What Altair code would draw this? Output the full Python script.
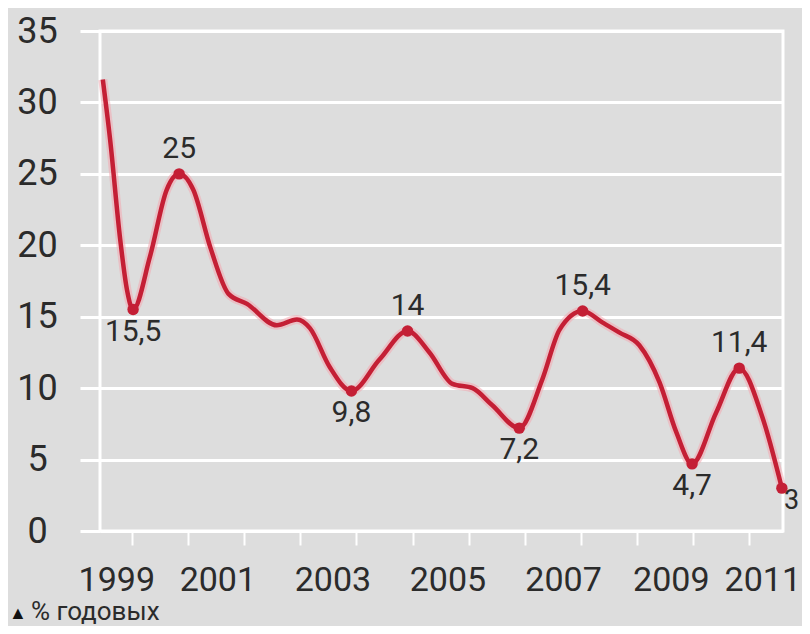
import altair as alt
import pandas as pd

# ---- data ----
years = [1999.48, 1999.61, 1999.79, 1999.91, 2000.02, 2000.32, 2000.62, 2000.84,
         2001.09, 2001.40, 2001.72, 2002.05, 2002.58, 2002.94, 2003.17, 2003.52,
         2003.91, 2004.41, 2004.91, 2005.30, 2005.71, 2006.07, 2006.42, 2006.90,
         2007.31, 2007.62, 2008.03, 2008.38, 2008.68, 2009.04, 2009.40, 2009.70,
         2009.98, 2010.41, 2010.82, 2011.23, 2011.58]
values = [31.6, 27.4, 20.4, 16.9, 15.5, 19.2, 23.9, 25.0,
          23.9, 19.8, 16.6, 15.9, 14.4, 14.8, 14.2, 11.5,
          9.8, 12.0, 14.0, 12.5, 10.3, 10.0, 8.8, 7.2,
          10.6, 14.1, 15.4, 14.6, 13.9, 13.0, 10.4, 6.9,
          4.7, 8.3, 11.4, 8.0, 3.0]

marker_years = [2000.02, 2000.84, 2003.91, 2004.91, 2006.90, 2008.03, 2009.98, 2010.82, 2011.58]
marker_values = [15.5, 25.0, 9.8, 14.0, 7.2, 15.4, 4.7, 11.4, 3.0]
marker_labels = ["15,5", "25", "9,8", "14", "7,2", "15,4", "4,7", "11,4", "3"]
marker_side = ["below", "above", "below", "above", "below", "above", "below", "above", "right"]

tick_years = list(range(2000, 2012))
label_positions = [1999.73, 2001.53, 2003.58, 2005.63, 2007.69, 2009.61, 2011.24]
label_texts = ["1999", "2001", "2003", "2005", "2007", "2009", "2011"]
y_ticks = [0, 5, 10, 15, 20, 25, 30, 35]
caption_mark = "▲"
caption_text = "% годовых"

# ---- styling ----
FONT = "Roboto"
RED = "#c41f35"
TXT = "#2b2b2b"
BG = "#dddddd"

line_df = pd.DataFrame({"year": years, "value": values})
mk_df = pd.DataFrame({"year": marker_years, "value": marker_values,
                      "label": marker_labels, "side": marker_side})
xl_df = pd.DataFrame({"year": label_positions, "label": label_texts})
cap_df = pd.DataFrame({"mark": [caption_mark], "text": [caption_text]})

xscale = alt.Scale(domain=[1999.43, 2011.6], nice=False, zero=False)
yscale = alt.Scale(domain=[0, 35], nice=False)

x_axis = alt.Axis(
    values=tick_years, title=None, domain=False, grid=False, labels=False,
    tickColor="white", tickWidth=2, tickSize=14,
)
y_axis = alt.Axis(
    values=y_ticks, title=None, domain=False,
    grid=True, gridColor="white", gridWidth=3,
    tickColor="white", tickWidth=3, tickSize=20,
    labelFont=FONT, labelFontSize=36, labelColor=TXT,
    labelAlign="center", labelBaseline="middle", labelPadding=43,
)

base = alt.Chart(line_df)

halo = base.mark_line(interpolate="monotone", color="#f2a7b0", strokeWidth=9, opacity=0.55).encode(
    x=alt.X("year:Q", scale=xscale, axis=x_axis),
    y=alt.Y("value:Q", scale=yscale, axis=y_axis),
)
line = base.mark_line(interpolate="monotone", color=RED, strokeWidth=4.5).encode(
    x="year:Q", y="value:Q"
)

mk = alt.Chart(mk_df)
points = mk.mark_circle(color=RED, size=130, opacity=1).encode(x="year:Q", y="value:Q")

txt_kw = dict(font=FONT, fontSize=30, color=TXT, baseline="middle")
above = mk.mark_text(dy=-25, **txt_kw).encode(x="year:Q", y="value:Q", text="label:N").transform_filter(
    alt.datum.side == "above")
below = mk.mark_text(dy=22, **txt_kw).encode(x="year:Q", y="value:Q", text="label:N").transform_filter(
    alt.datum.side == "below")
right = mk.mark_text(dx=2, dy=13, align="left", font=FONT, fontSize=27, color=TXT,
                     baseline="middle").encode(
    x="year:Q", y="value:Q", text="label:N").transform_filter(alt.datum.side == "right")

xlabels = alt.Chart(xl_df).mark_text(font=FONT, fontSize=34, color=TXT, baseline="alphabetic").encode(
    x="year:Q", y=alt.value(560), text="label:N")

cap1 = alt.Chart(cap_df).mark_text(font=FONT, fontSize=18, color="#111111", align="left",
                                   baseline="alphabetic").encode(
    x=alt.value(-91), y=alt.value(588), text="mark:N")
cap2 = alt.Chart(cap_df).mark_text(font=FONT, fontSize=26, color=TXT, align="left",
                                   baseline="alphabetic").encode(
    x=alt.value(-69), y=alt.value(589), text="text:N")

chart = alt.layer(halo, line, points, above, below, right, xlabels, cap1, cap2).properties(
    width=683, height=500,
    autosize=alt.AutoSizeParams(type="none"),
    padding={"left": 92, "top": 23, "right": 19, "bottom": 95},
    background=BG,
).configure_view(stroke="white", strokeWidth=3, fill=BG)

chart.save("out.html", embed_options={"renderer": "svg", "actions": False})
